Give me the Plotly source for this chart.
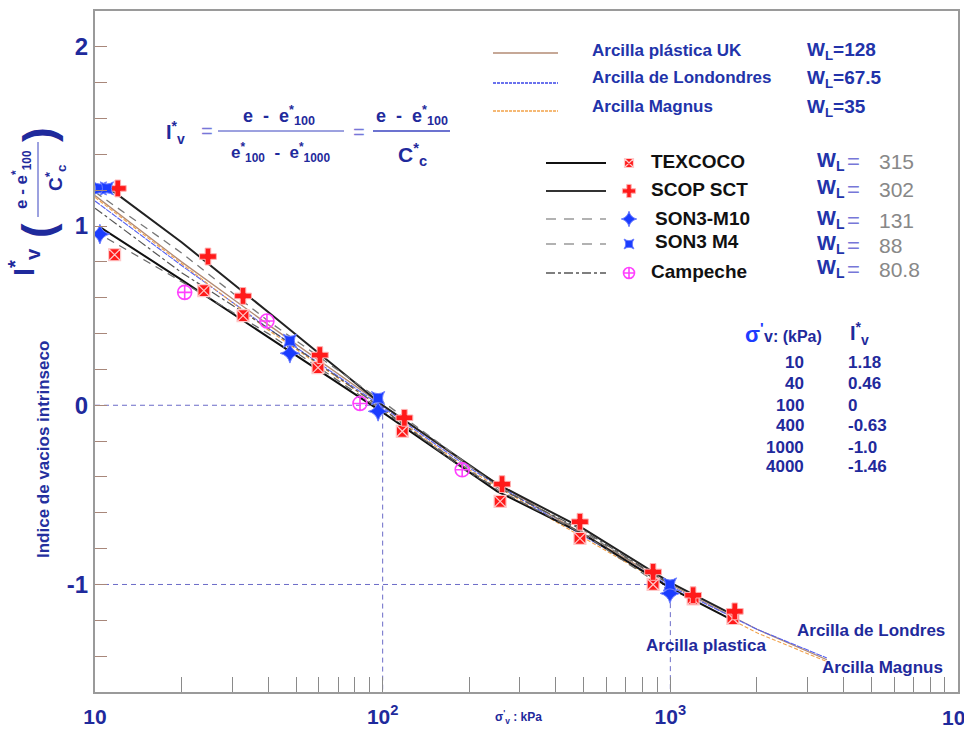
import plotly.graph_objects as go

# ---------------- data ----------------
# reference (ICL-type) curves
icl_sigma = [10, 20, 40, 100, 200, 400, 1000, 2000, 3500]
uk_I = [1.17, 0.80, 0.45, 0.00, -0.34, -0.63, -1.00, -1.25, -1.42]
londres_I = [1.14, 0.78, 0.43, -0.01, -0.35, -0.64, -1.01, -1.25, -1.41]
magnus_I = [1.16, 0.79, 0.42, -0.02, -0.36, -0.65, -1.02, -1.27, -1.43]

# measured points
texcoco_s = [11.7, 23.9, 32.7, 59.6, 117, 256, 485, 871, 1200, 1650]
texcoco_I = [0.84, 0.64, 0.50, 0.21, -0.145, -0.536, -0.743, -1.0, -1.08, -1.19]
scop_s = [12.0, 24.7, 32.7, 60.5, 119, 260, 485, 871, 1200, 1675]
scop_I = [1.21, 0.83, 0.61, 0.28, -0.07, -0.44, -0.65, -0.93, -1.06, -1.15]
m10_s = [10.4, 47.6, 96.4, 997]
m10_I = [0.955, 0.29, -0.034, -1.05]
m4_s = [10.4, 11.0, 47.6, 96.4, 997]
m4_I = [1.21, 1.21, 0.36, 0.04, -1.0]
camp_s = [20.5, 39.6, 83.4, 189]
camp_I = [0.63, 0.47, 0.01, -0.36]

# fitted curves
fit_texcoco_s = [10.5, 20, 40, 100, 250, 500, 1000, 1650]
fit_texcoco_I = [0.99, 0.70, 0.38, -0.04, -0.48, -0.72, -1.02, -1.20]
fit_scop_s = [10.8, 20, 40, 100, 250, 500, 1000, 1700]
fit_scop_I = [1.23, 0.91, 0.52, 0.0, -0.44, -0.69, -0.99, -1.18]
fit_m4_s = [10, 20, 40, 100, 250, 500, 1000]
fit_m4_I = [1.19, 0.85, 0.47, 0.02, -0.45, -0.71, -1.0]
fit_m10_s = [10, 20, 40, 100, 250, 500, 1000]
fit_m10_I = [0.97, 0.69, 0.40, -0.03, -0.47, -0.72, -1.04]
fit_camp_s = [10, 20, 40, 100, 200, 500, 1000]
fit_camp_I = [1.10, 0.74, 0.43, -0.02, -0.38, -0.70, -1.0]

# guide lines
guide_sigma = [100, 1000]
guide_I = [0, -1]

# table
table_sigma = ["10", "40", "100", "400", "1000", "4000"]
table_I = ["1.18", "0.46", "0", "-0.63", "-1.0", "-1.46"]

# legends
ref_names = ["Arcilla plástica UK", "Arcilla de Londondres", "Arcilla Magnus"]
ref_wl = ["128", "67.5", "35"]
ser_names = ["TEXCOCO", "SCOP SCT", "SON3-M10", "SON3 M4", "Campeche"]
ser_wl = ["315", "302", "131", "88", "80.8"]

# ---------------- layout helpers ----------------
L, R, T, B = 95, 958, 11, 692
W, H = 964, 730
def px(x): return (x - L) / (R - L)
def py(y): return (B - y) / (B - T)

BLUE = "#1f2a9c"
FONT = "Liberation Sans, Arial, sans-serif"

fig = go.Figure()

# reference curves
fig.add_trace(go.Scatter(x=icl_sigma, y=uk_I, mode="lines",
                         line=dict(color="#b38b74", width=1.3)))
fig.add_trace(go.Scatter(x=icl_sigma, y=londres_I, mode="lines",
                         line=dict(color="#5560f0", width=1.1, dash="6px,1px")))
fig.add_trace(go.Scatter(x=icl_sigma, y=magnus_I, mode="lines",
                         line=dict(color="#f2a24a", width=1.1, dash="4px,2px")))

# guides
gcol = "#6b6bc8"
fig.add_trace(go.Scatter(x=[10, guide_sigma[0], guide_sigma[0]], y=[guide_I[0], guide_I[0], -1.6],
                         mode="lines", line=dict(color=gcol, width=1, dash="5px,4px")))
fig.add_trace(go.Scatter(x=[10, guide_sigma[1], guide_sigma[1]], y=[guide_I[1], guide_I[1], -1.6],
                         mode="lines", line=dict(color=gcol, width=1, dash="5px,4px")))

# fitted curves
fig.add_trace(go.Scatter(x=fit_texcoco_s, y=fit_texcoco_I, mode="lines", line=dict(color="#111", width=2)))
fig.add_trace(go.Scatter(x=fit_scop_s, y=fit_scop_I, mode="lines", line=dict(color="#222", width=2)))
fig.add_trace(go.Scatter(x=fit_m4_s, y=fit_m4_I, mode="lines", line=dict(color="#777", width=1.3, dash="8px,6px")))
fig.add_trace(go.Scatter(x=fit_m10_s, y=fit_m10_I, mode="lines", line=dict(color="#666", width=1.3, dash="8px,6px")))
fig.add_trace(go.Scatter(x=fit_camp_s, y=fit_camp_I, mode="lines", line=dict(color="#555", width=1.2, dash="dashdot")))

# markers
mk = dict(
    tex=dict(symbol="square-x", color="#ff1a1a", size=12, line=dict(color="#ffc8c8", width=1.2)),
    scop=dict(symbol="cross", color="#ff1a1a", size=14, line=dict(color="#ffb0b0", width=1)),
    m10=dict(symbol="star-diamond", color="#1a3cff", size=14, line=dict(color="#6a7cff", width=1)),
    m4=dict(symbol="star-square", color="#1a3cff", size=12, line=dict(color="#6a7cff", width=1)),
    camp=dict(symbol="circle-cross-open", color="#ff40ff", size=14, line=dict(color="#ff40ff", width=1.6)),
)
fig.add_trace(go.Scatter(x=texcoco_s, y=texcoco_I, mode="markers", marker=mk["tex"]))
fig.add_trace(go.Scatter(x=scop_s, y=scop_I, mode="markers", marker=mk["scop"]))
fig.add_trace(go.Scatter(x=m10_s, y=m10_I, mode="markers", marker=mk["m10"]))
fig.add_trace(go.Scatter(x=m4_s, y=m4_I, mode="markers", marker=mk["m4"]))
fig.add_trace(go.Scatter(x=camp_s, y=camp_I, mode="markers", marker=mk["camp"]))

# legend marker keys on a pixel-scaled overlay axis
leg_y = [163, 191, 219, 244, 273]
for key, yy in zip(["tex", "scop", "m10", "m4", "camp"], leg_y):
    m = dict(mk[key]); m["size"] = m["size"] - 3
    fig.add_trace(go.Scatter(x=[629], y=[yy], mode="markers", marker=m,
                             xaxis="x2", yaxis="y2", cliponaxis=False))

shapes = []
ann = []

def text(x, y, s, size=16, color=BLUE, xa="left", ya="middle", angle=0):
    ann.append(dict(x=px(x), y=py(y), xref="paper", yref="paper", text=s, showarrow=False,
                    xanchor=xa, yanchor=ya, textangle=angle,
                    font=dict(family=FONT, size=size, color=color)))

def hline(x0, x1, y, color, width=1.5, dash="solid"):
    shapes.append(dict(type="line", xref="paper", yref="paper", x0=px(x0), x1=px(x1),
                       y0=py(y), y1=py(y), line=dict(color=color, width=width, dash=dash)))

# top legend
ref_line = [("#b38b74", "solid"), ("#3a44e8", "3px,1px"), ("#f2a24a", "3px,1px")]
ref_ly = [53, 83, 111]
ref_ty = [50, 78, 107]
for i, (nm, wl) in enumerate(zip(ref_names, ref_wl)):
    hline(493, 558, ref_ly[i], ref_line[i][0], 1.3, ref_line[i][1])
    text(590, ref_ty[i], "<b>" + nm + "</b>", 17, "#2233aa")
    text(805, ref_ty[i] + 1, "<b>W<sub>L</sub>=" + wl + "</b>", 19, "#2233aa")

# series legend
ser_line = [("#111", "solid", 2.2), ("#333", "solid", 2.2), ("#999", "10px,8px", 1.6),
            ("#999", "10px,8px", 1.6), ("#555", "dashdot", 1.5)]
ser_tx = [649, 649, 653, 653, 649]
ser_ty = [162, 189, 218, 242, 271]
ser_wy = [162, 189, 220, 245, 270]
for i, nm in enumerate(ser_names):
    c, d, w = ser_line[i]
    hline(546, 606, leg_y[i], c, w, d)
    text(ser_tx[i], ser_ty[i], "<b>" + nm + "</b>", 19, "#111")
    text(815, ser_wy[i] - 1, "<b>W<sub>L</sub></b>", 20, "#2233aa")
    text(845, ser_wy[i], "=", 22, "#7777d8")
    text(877, ser_wy[i], ser_wl[i], 21, "#888888")

# table
text(743, 333, "<b>σ<sup>'</sup></b>", 22, "#1e3cff")
text(762, 336, "<b>v: (kPa)</b>", 16)
text(848, 333, "<b>I<sup>*</sup><sub>v</sub></b>", 20)
tab_y = [362, 383, 405, 425, 447, 466]
for s, v, y in zip(table_sigma, table_I, tab_y):
    text(806, y, "<b>" + s + "</b>", 17, xa="right")
    text(846, y, "<b>" + v + "</b>", 17)

# curve labels
text(706, 645, "<b>Arcilla plastica</b>", 17, xa="center")
text(871, 630, "<b>Arcilla de Londres</b>", 17, xa="center")
text(882, 667, "<b>Arcilla Magnus</b>", 17, xa="center")

# equation
text(175, 133, "<b>I<sup>*</sup><sub>v</sub></b>", 20, xa="center")
text(207, 131, "=", 20, "#7777d8", xa="center")
text(279, 116, "<b>e  -  e<sup>*</sup><sub>100</sub></b>", 18, xa="center")
shapes.append(dict(type="line", xref="paper", yref="paper", x0=px(218), x1=px(344), y0=py(131), y1=py(131),
                   line=dict(color="#3b45c0", width=1)))
text(280, 152, "<b>e<sup>*</sup><sub>100</sub>  -  e<sup>*</sup><sub>1000</sub></b>", 17, xa="center")
text(359, 132, "=", 20, "#7777d8", xa="center")
text(412, 116, "<b>e  -  e<sup>*</sup><sub>100</sub></b>", 18, xa="center")
shapes.append(dict(type="line", xref="paper", yref="paper", x0=px(373), x1=px(450), y0=py(131), y1=py(131),
                   line=dict(color="#3b45c0", width=1.5)))
text(412, 155, "<b>C<sup>*</sup><sub>c</sub></b>", 21, xa="center")

# y-axis symbol and title (rotated)
text(24, 262, "<b>I<sup>*</sup><sub>v</sub></b>", 29, xa="center", angle=-90)
text(38, 231, "<b>(</b>", 44, xa="center", angle=-90)
text(38, 135, "<b>)</b>", 44, xa="center", angle=-90)
text(21, 180, "<b>e - e<sup>*</sup><sub>100</sub></b>", 17, xa="center", angle=-90)
shapes.append(dict(type="line", xref="paper", yref="paper", x0=px(38), x1=px(38), y0=py(142), y1=py(217),
                   line=dict(color="#3b45c0", width=1)))
text(55, 178, "<b>C<sup>*</sup><sub>c</sub></b>", 19, xa="center", angle=-90)
text(43, 450, "<b>Indice de vacios intrinseco</b>", 17, "#24309e", xa="center", angle=-90)

# x title and clipped last decade label
text(518, 717, "<b>σ<sup>'</sup><sub>v</sub> : kPa</b>", 12, xa="center")
text(958, 716, "<b>10<sup>4</sup></b>", 21, BLUE, xa="center")

# axes ticks
xt = []
for d in [10, 100, 1000]:
    xt += [d * k for k in range(1, 10)]
xt.append(10000)
xlab = {10: "10", 100: "10<sup>2</sup>", 1000: "10<sup>3</sup>"}
xtt = ["<b>" + xlab[v] + "</b>" if v in xlab else "" for v in xt]

yt = [round(-1.6 + 0.2 * i, 1) for i in range(20)]
ytt = ["<b>%d</b>" % v if abs(v - round(v)) < 1e-9 else "" for v in yt]

fig.update_layout(
    width=W, height=H, autosize=False,
    margin=dict(l=L, r=W - R, t=T, b=H - B),
    paper_bgcolor="white", plot_bgcolor="white",
    showlegend=False,
    shapes=shapes, annotations=ann,
    xaxis=dict(type="log", range=[1, 4], tickvals=xt, ticktext=xtt, ticks="inside", ticklen=15,
               tickcolor="#8a8a8a", tickwidth=1.3, showgrid=False, zeroline=False,
               showline=True, linecolor="#9a9a9a", linewidth=2, mirror=True, automargin=False,
               tickfont=dict(family=FONT, size=21, color=BLUE), ticklabelstandoff=5),
    yaxis=dict(range=[-1.6, 2.2], tickvals=yt, ticktext=ytt, ticks="inside", ticklen=12,
               tickcolor="#a8877a", tickwidth=1.3, showgrid=False, zeroline=False,
               showline=True, linecolor="#9a9a9a", linewidth=2, mirror=True, automargin=False,
               tickfont=dict(family=FONT, size=24, color=BLUE), ticklabelstandoff=0),
    xaxis2=dict(overlaying="x", range=[L, R], visible=False, fixedrange=True, automargin=False),
    yaxis2=dict(overlaying="y", range=[B, T], visible=False, fixedrange=True, automargin=False),
)

fig.write_html("out.html")
